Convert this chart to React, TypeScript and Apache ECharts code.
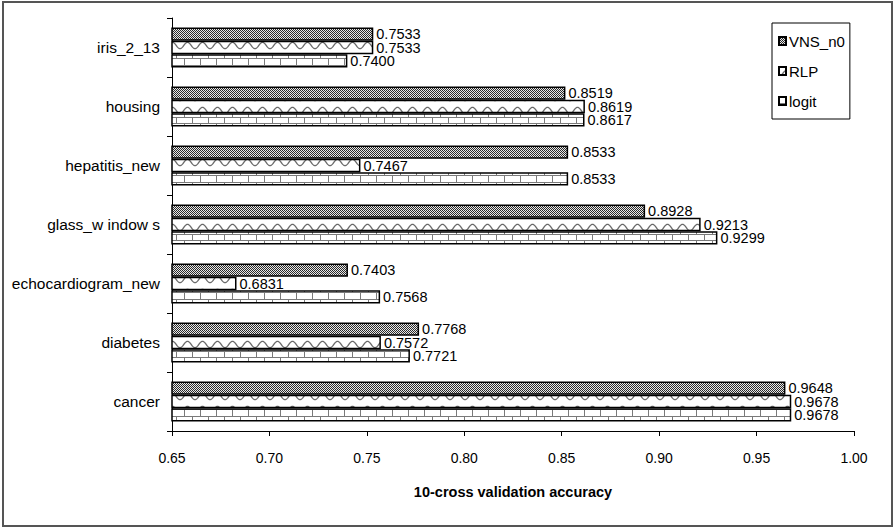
import React, { useEffect, useRef } from "react";
import * as echarts from "echarts";

const categories = ["cancer", "diabetes", "echocardiogram_new", "glass_w indow s", "hepatitis_new", "housing", "iris_2_13"];
const vnsValues = [0.9648, 0.7768, 0.7403, 0.8928, 0.8533, 0.8519, 0.7533];
const rlpValues = [0.9678, 0.7572, 0.6831, 0.9213, 0.7467, 0.8619, 0.7533];
const logitValues = [0.9678, 0.7721, 0.7568, 0.9299, 0.8533, 0.8617, 0.74];
const seriesNames = ["VNS_n0", "RLP", "logit"];
const xTicks = { min: 0.65, max: 1.0, interval: 0.05 };
const axisTitle = "10-cross validation accuracy";

const FONT = "'Liberation Sans', Arial, sans-serif";

function makeTile(w: number, h: number, draw: (ctx: CanvasRenderingContext2D) => void) {
  const c = document.createElement("canvas");
  c.width = w;
  c.height = h;
  const ctx = c.getContext("2d")!;
  ctx.fillStyle = "#fff";
  ctx.fillRect(0, 0, w, h);
  draw(ctx);
  return c;
}

export default function App() {
  const ref = useRef<HTMLDivElement>(null);
  useEffect(() => {
    if (!ref.current) return;
    const checker = makeTile(4, 4, (ctx) => {
      for (let y = 0; y < 4; y++)
        for (let x = 0; x < 4; x++) {
          ctx.fillStyle = (x + y) % 2 === 0 ? "#2a2a2a" : "#e8e8e8";
          ctx.fillRect(x, y, 1, 1);
        }
    });
    const wave = makeTile(15, 13, (ctx) => {
      ctx.strokeStyle = "#6a6a6a";
      ctx.lineWidth = 1.3;
      ctx.beginPath();
      for (let x = 0; x <= 15; x += 0.5) {
        const y = 6.5 + 3.2 * Math.cos((2 * Math.PI * x) / 15);
        if (x === 0) ctx.moveTo(x, y);
        else ctx.lineTo(x, y);
      }
      ctx.stroke();
    });
    const brick = makeTile(16, 13, (ctx) => {
      ctx.strokeStyle = "#7a7a7a";
      ctx.lineWidth = 1;
      ctx.beginPath();
      ctx.moveTo(0, 0.5);
      ctx.lineTo(16, 0.5);
      ctx.moveTo(0, 6.5);
      ctx.lineTo(16, 6.5);
      ctx.moveTo(0.5, 0);
      ctx.lineTo(0.5, 6.5);
      ctx.moveTo(8.5, 6.5);
      ctx.lineTo(8.5, 13);
      ctx.stroke();
    });
    const fills = [checker, wave, brick];
    const datas = [vnsValues, rlpValues, logitValues];

    const chart = echarts.init(ref.current, undefined, { renderer: "svg" });
    chart.setOption({
      animation: false,
      backgroundColor: "#fff",
      textStyle: { fontFamily: FONT },
      grid: { left: 172, right: 42, top: 18, bottom: 98, containLabel: false },
      legend: {
        orient: "vertical",
        left: 772,
        top: 23,
        data: seriesNames,
        borderColor: "#000",
        borderWidth: 1,
        padding: [9, 5, 9, 6],
        itemWidth: 7,
        itemHeight: 8,
        itemGap: 12,
        icon: "rect",
        textStyle: { fontFamily: FONT, fontSize: 15, color: "#000", lineHeight: 18, padding: [0, 0, 0, -2] },
      },
      xAxis: {
        type: "value",
        min: xTicks.min,
        max: xTicks.max,
        interval: xTicks.interval,
        name: axisTitle,
        nameLocation: "middle",
        nameGap: 53,
        nameTextStyle: { fontFamily: FONT, fontSize: 14.5, fontWeight: "bold", color: "#000" },
        axisLine: { show: true, lineStyle: { color: "#000", width: 1 } },
        axisTick: { show: true, length: 5, lineStyle: { color: "#000" } },
        axisLabel: {
          fontFamily: FONT,
          fontSize: 14,
          color: "#000",
          margin: 20,
          formatter: (v: number) => v.toFixed(2),
        },
        splitLine: { show: false },
      },
      yAxis: {
        type: "category",
        data: categories,
        axisLine: { show: true, lineStyle: { color: "#000", width: 1 } },
        axisTick: { show: true, length: 5, lineStyle: { color: "#000" } },
        axisLabel: { fontFamily: FONT, fontSize: 15.5, color: "#000", margin: 12 },
        splitLine: { show: false },
      },
      series: seriesNames.map((name, i) => ({
        name,
        type: "bar",
        data: datas[i],
        barGap: "0%",
        barCategoryGap: "32%",
        itemStyle: {
          color: { image: fills[i], repeat: "repeat" },
          borderColor: "#000",
          borderWidth: 1.5,
        },
        label: {
          show: true,
          position: "right",
          distance: 3,
          fontFamily: FONT,
          fontSize: 14.5,
          color: "#000",
          formatter: (p: any) => Number(p.value).toFixed(4),
        },
      })),
      graphic: [
        {
          type: "rect",
          shape: { x: 3, y: 2, width: 889, height: 524 },
          style: { fill: "none", stroke: "#555", lineWidth: 2 },
          silent: true,
          z: 100,
        },
      ],
    });
    return () => chart.dispose();
  }, []);
  return <div ref={ref} style={{ position: "fixed", left: 0, top: 0, width: 896, height: 529 }} />;
}
